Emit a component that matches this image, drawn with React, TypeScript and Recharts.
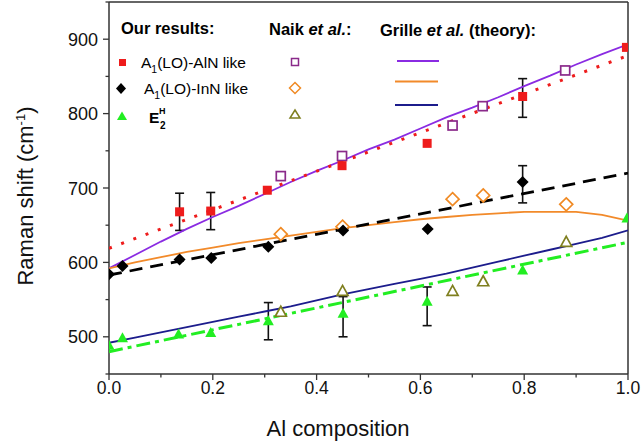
import { ComposedChart, Scatter, XAxis, YAxis, ErrorBar, ReferenceLine } from 'recharts'

// measured (our results)
const ourAlN = [
  { x: 0.136, y: 668 }, { x: 0.196, y: 669 }, { x: 0.305, y: 697 }, { x: 0.449, y: 730 },
  { x: 0.613, y: 760 }, { x: 0.797, y: 823 }, { x: 0.997, y: 889 },
]
const ourInN = [
  { x: 0.0, y: 584 }, { x: 0.026, y: 595 }, { x: 0.136, y: 604 }, { x: 0.197, y: 606 },
  { x: 0.307, y: 621 }, { x: 0.451, y: 643 }, { x: 0.614, y: 645 }, { x: 0.797, y: 708 },
]
const ourE2 = [
  { x: 0.0, y: 488 }, { x: 0.026, y: 498 }, { x: 0.134, y: 503 }, { x: 0.196, y: 505 },
  { x: 0.307, y: 521 }, { x: 0.451, y: 531 }, { x: 0.613, y: 547 }, { x: 0.797, y: 589 },
  { x: 0.998, y: 659 },
]
const alnErr = [{ x: 0.136, y: 668, err: 25 }, { x: 0.196, y: 669, err: 25 }, { x: 0.797, y: 821, err: 26 }]
const innErr = [{ x: 0.797, y: 705, err: 25 }]
const e2Err = [{ x: 0.307, y: 521, err: 25 }, { x: 0.451, y: 527, err: 27 }, { x: 0.613, y: 541, err: 26 }]

// linear fits
const fitAlN = [{ x: 0, y: 619 }, { x: 1, y: 878 }]
const fitInN = [{ x: 0, y: 583 }, { x: 1, y: 720 }]
const fitE2 = [{ x: 0, y: 480 }, { x: 1, y: 627 }]

// Naik et al.
const naikAlN = [{ x: 0.331, y: 716 }, { x: 0.449, y: 743 }, { x: 0.662, y: 784 }, { x: 0.72, y: 810 }, { x: 0.879, y: 858 }]
const naikInN = [{ x: 0.331, y: 638 }, { x: 0.45, y: 648 }, { x: 0.662, y: 685 }, { x: 0.721, y: 690 }, { x: 0.881, y: 678 }]
const naikE2 = [{ x: 0.331, y: 533 }, { x: 0.45, y: 561 }, { x: 0.662, y: 561 }, { x: 0.721, y: 574 }, { x: 0.881, y: 627 }]

// Grille et al. theory
const compX = [0, 0.05, 0.1, 0.15, 0.2, 0.25, 0.3, 0.35, 0.4, 0.45, 0.5, 0.55, 0.6, 0.65, 0.7, 0.75, 0.8, 0.85, 0.9, 0.95, 1.0]
const grilleAlN = [592, 610, 628, 645, 661, 676, 692, 708, 723, 737, 752, 765, 780, 795, 808, 822, 837, 851, 866, 880, 893]
const grilleInN = [592, 600, 607, 614, 620, 626, 631, 636, 641, 646, 650, 654, 658, 661, 664, 666, 668, 668, 668, 664, 656]
const grilleE2 = [492, 499, 506, 513, 520, 527, 534, 541, 549, 557, 564, 571, 578, 585, 593, 601, 609, 617, 625, 633, 643]

const xTicks = [0, 0.1, 0.2, 0.3, 0.4, 0.5, 0.6, 0.7, 0.8, 0.9, 1.0]
const yTicks = [450, 500, 550, 600, 650, 700, 750, 800, 850, 900, 950]

const FONT = '"Liberation Sans", Arial, sans-serif'
const AXIS = '#333'

const toPts = (ys: number[]) => compX.map((x, i) => ({ x, y: ys[i] }))

const none = () => <g />
const sq = (fill: string, s = 9) => (p: any) => <rect x={p.cx - s / 2} y={p.cy - s / 2} width={s} height={s} fill={fill} />
const dia = (fill: string, r = 6) => (p: any) => (
  <path d={`M${p.cx},${p.cy - r}L${p.cx + r},${p.cy}L${p.cx},${p.cy + r}L${p.cx - r},${p.cy}Z`} fill={fill} />
)
const tri = (fill: string, w = 11, h = 10) => (p: any) => (
  <path d={`M${p.cx},${p.cy - h * 0.6}L${p.cx + w / 2},${p.cy + h * 0.4}L${p.cx - w / 2},${p.cy + h * 0.4}Z`} fill={fill} />
)
const osq = (c: string, s = 9) => (p: any) => (
  <rect x={p.cx - s / 2} y={p.cy - s / 2} width={s} height={s} fill="#fff" stroke={c} strokeWidth={1.7} />
)
const odia = (c: string, r = 6.5) => (p: any) => (
  <path d={`M${p.cx},${p.cy - r}L${p.cx + r},${p.cy}L${p.cx},${p.cy + r}L${p.cx - r},${p.cy}Z`} fill="#fff" stroke={c} strokeWidth={1.7} />
)
const otri = (c: string, w = 11, h = 10) => (p: any) => (
  <path d={`M${p.cx},${p.cy - h * 0.6}L${p.cx + w / 2},${p.cy + h * 0.4}L${p.cx - w / 2},${p.cy + h * 0.4}Z`} fill="#fff" stroke={c} strokeWidth={1.7} />
)

const XTick = (props: any) => {
  const { x, y, payload } = props
  const v = payload.value as number
  const major = Math.round(v * 10) % 2 === 0
  return (
    <g>
      <line x1={x} x2={x} y1={y} y2={y + (major ? 6 : 3.5)} stroke={AXIS} strokeWidth={1.3} />
      {major && (
        <text x={x} y={y + 19.5} textAnchor="middle" fontSize={17.5} fontFamily={FONT} fill="#111">
          {v.toFixed(1)}
        </text>
      )}
    </g>
  )
}

const YTick = (props: any) => {
  const { x, y, payload } = props
  const v = payload.value as number
  const major = v % 100 === 0 && v >= 500 && v <= 900
  return (
    <g>
      <line x1={x} x2={x - (major ? 6 : 3.5)} y1={y} y2={y} stroke={AXIS} strokeWidth={1.3} />
      {major && (
        <text x={x - 11} y={y + 6.5} textAnchor="end" fontSize={18} fontFamily={FONT} fill="#111">
          {v}
        </text>
      )}
    </g>
  )
}

const Legend = () => (
  <svg width={643} height={448} style={{ position: 'absolute', left: 0, top: 0, pointerEvents: 'none' }} fontFamily={FONT}>
    <text x={121} y={34} fontSize={16.5} fontWeight="bold">Our results:</text>
    <text x={269} y={35} fontSize={16.5} fontWeight="bold">Naik <tspan fontStyle="italic">et al.</tspan>:</text>
    <text x={380} y={36} fontSize={16.5} fontWeight="bold">Grille <tspan fontStyle="italic">et al.</tspan> (theory):</text>

    <rect x={119} y={59} width={7} height={7} fill="#ee1c1c" />
    <text x={141} y={68} fontSize={15.5}>A<tspan dy={5} fontSize={10.5}>1</tspan><tspan dy={-5}>(LO)-AlN like</tspan></text>
    <path d="M121,83L126,88.5L121,94L116,88.5Z" fill="#000" />
    <text x={144} y={94} fontSize={15.5}>A<tspan dy={5} fontSize={10.5}>1</tspan><tspan dy={-5}>(LO)-InN like</tspan></text>
    <path d="M122,111.5L127,120L117,120Z" fill="#22ee22" />
    <text x={149} y={123} fontSize={15.5} fontWeight="bold">E</text>
    <text x={160} y={129} fontSize={10} fontWeight="bold">2</text>
    <text x={159} y={114} fontSize={9} fontWeight="bold">H</text>

    <rect x={291.5} y={58.5} width={7} height={7} fill="none" stroke="#8a2a8a" strokeWidth={1.5} />
    <path d="M295,82.5L300.5,88L295,93.5L289.5,88Z" fill="none" stroke="#f08a24" strokeWidth={1.5} />
    <path d="M295,110L300,118L290,118Z" fill="none" stroke="#7f7f1f" strokeWidth={1.5} />

    <line x1={397} x2={439} y1={61} y2={61} stroke="#8a2be2" strokeWidth={1.8} />
    <line x1={395} x2={438} y1={81.5} y2={81.5} stroke="#f28a2a" strokeWidth={1.8} />
    <line x1={395} x2={438} y1={105} y2={105} stroke="#1c1c8c" strokeWidth={1.8} />

    <text x={338} y={436} fontSize={22} textAnchor="middle" fill="#111">Al composition</text>
    <text x={33} y={196} fontSize={22} textAnchor="middle" fill="#111" transform="rotate(-90 33 196)">
      Raman shift (cm<tspan dy={-8} fontSize={13}>-1</tspan><tspan dy={8}>)</tspan>
    </text>
  </svg>
)

export default function App() {
  return (
    <div style={{ position: 'absolute', left: 0, top: 0, width: 643, height: 448, background: '#fff' }}>
      <ComposedChart width={643} height={448} margin={{ top: 2, right: 15, left: 0, bottom: 0 }}>
        <XAxis
          type="number" dataKey="x" domain={[0, 1]} ticks={xTicks} interval={0}
          height={74} tickSize={0} tickMargin={0} tickLine={false} tick={<XTick />}
          axisLine={{ stroke: AXIS, strokeWidth: 1.5 }} allowDataOverflow
        />
        <YAxis
          type="number" dataKey="y" domain={[450, 950]} ticks={yTicks} interval={0}
          width={109} tickSize={0} tickMargin={0} tickLine={false} tick={<YTick />}
          axisLine={{ stroke: AXIS, strokeWidth: 1.5 }} allowDataOverflow
        />
        <ReferenceLine y={950} stroke={AXIS} strokeWidth={1.5} />
        <ReferenceLine x={1} stroke={AXIS} strokeWidth={1.5} />

        {/* theory */}
        <Scatter data={toPts(grilleAlN)} shape={none} line={{ stroke: '#8a2be2', strokeWidth: 1.8 }} isAnimationActive={false} />
        <Scatter data={toPts(grilleInN)} shape={none} line={{ stroke: '#f28a2a', strokeWidth: 1.8 }} isAnimationActive={false} />
        <Scatter data={toPts(grilleE2)} shape={none} line={{ stroke: '#1c1c8c', strokeWidth: 1.8 }} isAnimationActive={false} />

        {/* fits */}
        <Scatter data={fitAlN} shape={none} line={{ stroke: '#ee1c1c', strokeWidth: 3, strokeDasharray: '3 10' }} isAnimationActive={false} />
        <Scatter data={fitInN} shape={none} line={{ stroke: '#000', strokeWidth: 2.8, strokeDasharray: '13 8' }} isAnimationActive={false} />
        <Scatter data={fitE2} shape={none} line={{ stroke: '#22ee22', strokeWidth: 3, strokeDasharray: '14 5 4 5' }} isAnimationActive={false} />

        {/* Naik et al. */}
        <Scatter data={naikAlN} shape={osq('#8a2a8a')} isAnimationActive={false} />
        <Scatter data={naikInN} shape={odia('#f08a24')} isAnimationActive={false} />
        <Scatter data={naikE2} shape={otri('#7f7f1f')} isAnimationActive={false} />

        {/* our results */}
        <Scatter data={ourAlN} shape={sq('#ee1c1c')} isAnimationActive={false} />
        <Scatter data={ourInN} shape={dia('#000')} isAnimationActive={false} />
        <Scatter data={ourE2} shape={tri('#22ee22')} isAnimationActive={false} />

        {/* error bars */}
        <Scatter data={alnErr} shape={none} isAnimationActive={false}>
          <ErrorBar dataKey="err" direction="y" width={4.5} stroke="#111" strokeWidth={1.6} />
        </Scatter>
        <Scatter data={innErr} shape={none} isAnimationActive={false}>
          <ErrorBar dataKey="err" direction="y" width={4.5} stroke="#111" strokeWidth={1.6} />
        </Scatter>
        <Scatter data={e2Err} shape={none} isAnimationActive={false}>
          <ErrorBar dataKey="err" direction="y" width={4.5} stroke="#111" strokeWidth={1.6} />
        </Scatter>
      </ComposedChart>
      <Legend />
    </div>
  )
}
